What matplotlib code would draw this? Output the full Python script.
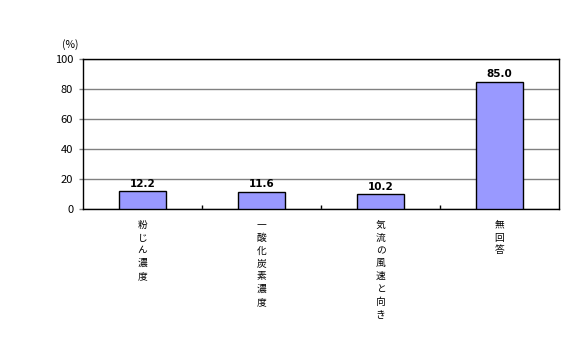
import matplotlib
matplotlib.use("Agg")
import matplotlib.pyplot as plt
import numpy as np

plt.rcParams['font.family'] = ['Noto Sans CJK JP', 'DejaVu Sans']

# data
categories = ["粉じん濃度", "一酸化炭素濃度", "気流の風速と向き", "無回答"]
values = [12.2, 11.6, 10.2, 85.0]
y_ticks = [0, 20, 40, 60, 80, 100]


def main():
    fig = plt.figure(figsize=(5.8, 3.6), dpi=100)
    ax = fig.add_axes([0.143, 0.419, 0.821, 0.417])

    x = np.arange(len(categories))
    ax.bar(x, values, width=0.4, color='#9999FF', edgecolor='black',
           linewidth=1.0, zorder=3)

    # value labels above bars
    for xi, v in zip(x, values):
        ax.text(xi, v + 1.5, f"{v:.1f}", ha='center', va='bottom',
                fontsize=7.5, fontweight='bold', family='DejaVu Sans')

    ax.set_xlim(-0.5, len(categories) - 0.5)
    ax.set_ylim(0, 100)
    ax.set_yticks(y_ticks)
    ax.set_yticklabels([str(t) for t in y_ticks], fontsize=8)
    ax.yaxis.grid(True, color='#808080', linewidth=1.0, zorder=0)
    ax.tick_params(axis='y', length=3, width=1, color='#808080', pad=4)

    # category tick marks between bars, pointing inward
    ax.set_xticks(np.arange(len(categories) - 1) + 0.5)
    ax.set_xticklabels([])
    ax.tick_params(axis='x', direction='in', length=3, width=1)

    # vertical (stacked) category labels
    for xi, cat in zip(x, categories):
        ax.text(xi, -7, "\n".join(cat), ha='center', va='top',
                fontsize=7, linespacing=1.36)

    for s in ax.spines.values():
        s.set_color('black')
        s.set_linewidth(1.0)

    fig.text(70 / 580, 1 - 45 / 360, "(%)", ha='center', va='center',
             fontsize=7.5)

    fig.savefig("out.png", dpi=100)


if __name__ == "__main__":
    main()
